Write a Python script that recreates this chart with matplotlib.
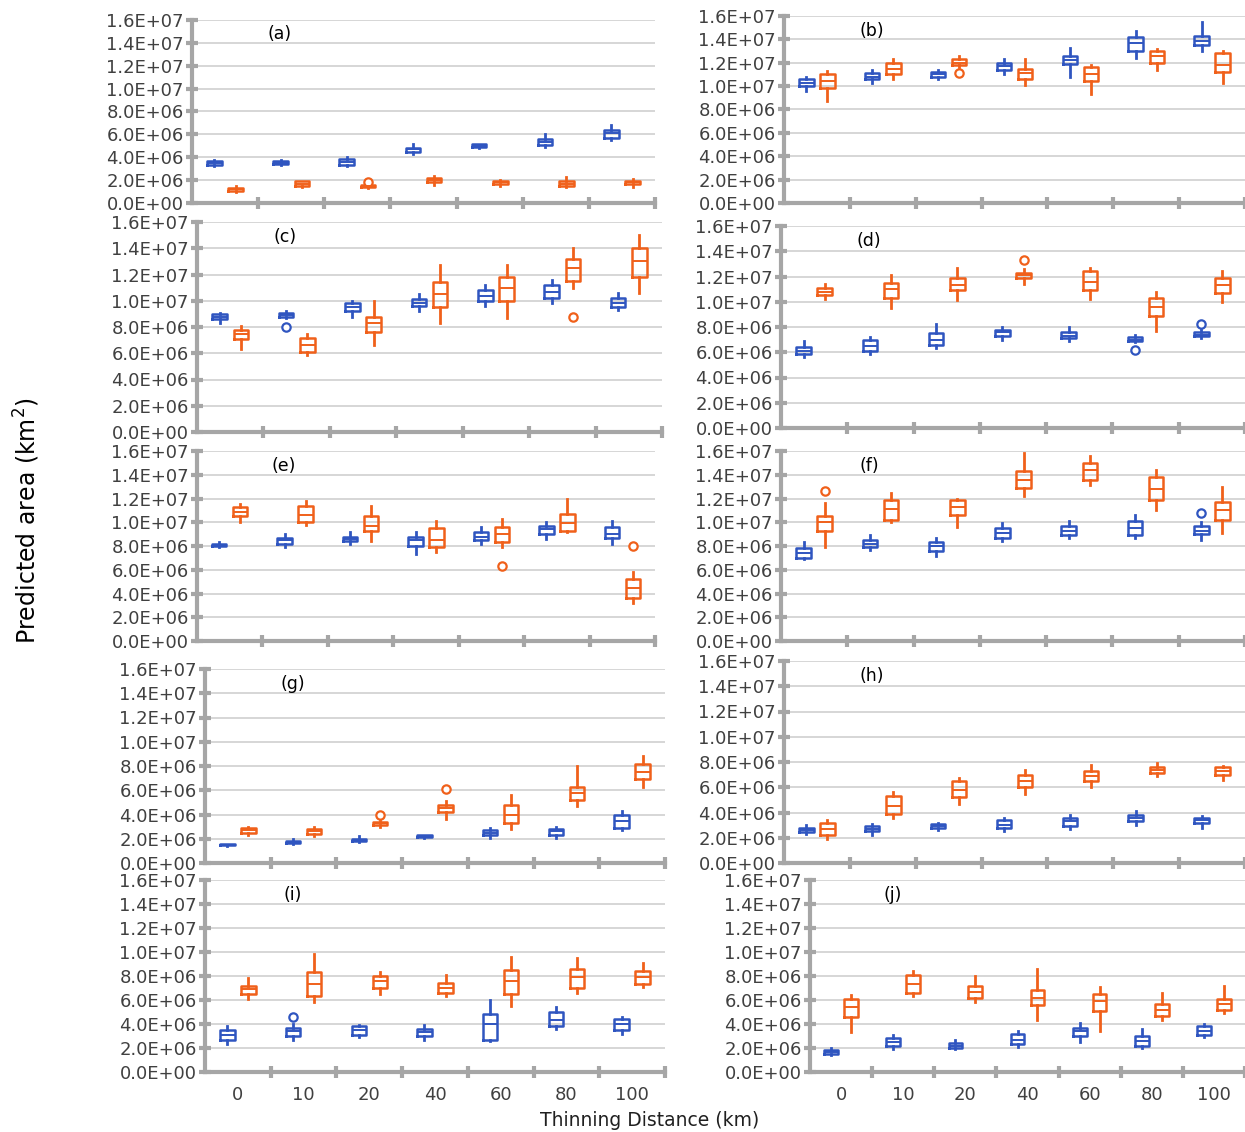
import matplotlib
matplotlib.use("Agg")
import matplotlib.pyplot as plt

W, H = 1245, 1132
BLUE = "#2f55c0"
ORANGE = "#f0601a"
GREY = "#a6a6a6"

groups = ["0", "10", "20", "40", "60", "80", "100"]

# each box: (low whisker, q1, median, q3, high whisker), values in 1e6 km2
a_blue = [(3.2, 3.35, 3.5, 3.65, 3.8), (3.3, 3.4, 3.5, 3.7, 3.8), (3.2, 3.35, 3.6, 3.85, 4.0),
          (4.3, 4.5, 4.7, 4.85, 5.2), (4.8, 4.9, 5.0, 5.15, 5.2), (4.9, 5.1, 5.3, 5.6, 6.0), (5.5, 5.7, 6.1, 6.4, 6.8)]
a_orange = [(1.0, 1.05, 1.2, 1.3, 1.5), (1.4, 1.5, 1.7, 1.9, 1.9), (1.3, 1.4, 1.5, 1.6, 1.7),
            (1.6, 1.8, 2.0, 2.2, 2.4), (1.5, 1.65, 1.8, 1.9, 2.0), (1.4, 1.5, 1.7, 1.9, 2.3), (1.4, 1.65, 1.8, 1.95, 2.1)]
a_fliers = {("o", 2): [1.8]}

b_blue = [(9.6, 10.0, 10.3, 10.6, 10.8), (10.3, 10.6, 10.8, 11.1, 11.4), (10.6, 10.8, 11.0, 11.2, 11.4),
          (11.0, 11.4, 11.7, 12.0, 12.3), (10.8, 11.9, 12.2, 12.6, 13.3), (12.4, 13.0, 13.7, 14.2, 14.7), (13.0, 13.5, 13.9, 14.3, 15.5)]
b_orange = [(8.7, 9.8, 10.4, 11.0, 11.3), (10.6, 11.0, 11.5, 12.0, 12.3), (11.6, 11.8, 12.0, 12.3, 12.6),
            (10.1, 10.6, 11.1, 11.5, 12.3), (9.3, 10.4, 11.0, 11.6, 11.8), (11.4, 12.0, 12.6, 13.0, 13.2), (10.3, 11.2, 11.8, 12.8, 13.0)]
b_fliers = {("o", 2): [11.1]}

c_blue = [(8.3, 8.6, 8.8, 9.0, 9.1), (8.7, 8.8, 8.9, 9.1, 9.2), (8.8, 9.2, 9.5, 9.8, 10.0),
          (9.2, 9.6, 9.8, 10.1, 10.5), (9.6, 10.0, 10.4, 10.8, 11.2), (9.8, 10.2, 10.7, 11.2, 11.6), (9.3, 9.5, 9.8, 10.2, 10.6)]
c_orange = [(6.3, 7.1, 7.5, 7.8, 8.1), (5.9, 6.1, 6.6, 7.2, 7.5), (6.6, 7.6, 8.3, 8.8, 10.0),
            (8.3, 9.5, 10.5, 11.4, 12.7), (8.7, 10.0, 11.0, 11.8, 12.7), (11.0, 11.5, 12.5, 13.2, 14.0), (10.6, 11.8, 13.0, 14.0, 15.0)]
c_fliers = {("b", 1): [8.0], ("o", 5): [8.8]}

d_blue = [(5.6, 5.9, 6.1, 6.4, 6.9), (5.9, 6.1, 6.5, 7.0, 7.2), (6.3, 6.6, 7.0, 7.5, 8.2),
          (7.0, 7.3, 7.6, 7.8, 8.0), (6.9, 7.1, 7.3, 7.6, 8.0), (6.8, 6.9, 7.0, 7.2, 7.4), (7.1, 7.3, 7.4, 7.6, 7.8)]
d_orange = [(10.2, 10.5, 10.8, 11.1, 11.4), (9.5, 10.3, 11.0, 11.5, 12.1), (10.1, 10.9, 11.3, 11.9, 12.7),
            (11.4, 11.9, 12.1, 12.3, 12.6), (10.2, 10.9, 11.6, 12.4, 12.7), (7.7, 8.9, 9.6, 10.3, 10.8), (10.0, 10.7, 11.3, 11.9, 12.4)]
d_fliers = {("b", 5): [6.2], ("b", 6): [8.2], ("o", 3): [13.3]}

e_blue = [(7.9, 8.0, 8.1, 8.2, 8.3), (7.9, 8.2, 8.5, 8.7, 9.0), (8.2, 8.4, 8.6, 8.8, 9.2),
          (7.3, 8.0, 8.5, 8.8, 9.2), (8.2, 8.5, 8.8, 9.2, 9.6), (8.6, 9.0, 9.4, 9.7, 10.0), (8.2, 8.7, 9.0, 9.6, 10.1)]
e_orange = [(10.0, 10.5, 10.9, 11.3, 11.5), (9.8, 10.0, 10.6, 11.4, 11.8), (8.4, 9.3, 9.7, 10.5, 11.4),
            (7.5, 7.9, 8.5, 9.5, 10.1), (7.9, 8.3, 9.0, 9.6, 10.3), (9.2, 9.3, 9.9, 10.7, 12.0), (3.2, 3.6, 4.5, 5.2, 5.8)]
e_fliers = {("o", 4): [6.3], ("o", 6): [8.0]}

f_blue = [(6.9, 7.0, 7.4, 7.8, 8.3), (7.7, 7.9, 8.2, 8.5, 8.9), (7.2, 7.6, 8.0, 8.3, 8.7),
          (8.4, 8.7, 9.1, 9.5, 9.9), (8.7, 8.9, 9.3, 9.7, 10.1), (8.7, 8.9, 9.5, 10.1, 10.6), (8.5, 9.0, 9.3, 9.7, 10.0)]
f_orange = [(7.9, 9.3, 10.0, 10.5, 11.6), (10.0, 10.2, 11.1, 11.9, 12.5), (9.6, 10.6, 11.3, 11.9, 12.0),
            (12.2, 12.9, 13.6, 14.3, 15.8), (13.1, 13.6, 14.4, 15.0, 15.6), (11.0, 11.9, 12.8, 13.8, 14.4), (9.1, 10.2, 11.0, 11.7, 13.0)]
f_fliers = {("o", 0): [12.6], ("b", 6): [10.8]}

g_blue = [(1.4, 1.45, 1.5, 1.55, 1.6), (1.6, 1.65, 1.7, 1.85, 2.0), (1.7, 1.8, 1.9, 2.0, 2.2),
          (2.05, 2.15, 2.2, 2.3, 2.35), (2.1, 2.35, 2.5, 2.75, 2.9), (2.1, 2.3, 2.6, 2.8, 3.0), (2.7, 2.9, 3.5, 4.0, 4.3)]
g_orange = [(2.3, 2.5, 2.7, 2.9, 3.0), (2.2, 2.4, 2.6, 2.8, 3.0), (3.0, 3.15, 3.3, 3.4, 3.5),
            (3.6, 4.2, 4.5, 4.8, 5.1), (2.8, 3.3, 4.0, 4.8, 5.6), (4.7, 5.2, 5.8, 6.3, 8.0), (6.3, 6.9, 7.5, 8.2, 8.8)]
g_fliers = {("o", 2): [4.0], ("o", 3): [6.1]}

h_blue = [(2.3, 2.45, 2.6, 2.8, 3.0), (2.2, 2.5, 2.7, 2.9, 3.1), (2.6, 2.75, 2.9, 3.05, 3.2),
          (2.5, 2.8, 3.0, 3.4, 3.6), (2.7, 2.9, 3.3, 3.6, 3.8), (3.0, 3.3, 3.6, 3.8, 4.1), (2.8, 3.2, 3.4, 3.6, 3.7)]
h_orange = [(1.9, 2.2, 2.7, 3.2, 3.4), (3.6, 3.9, 4.5, 5.3, 5.6), (4.7, 5.2, 5.8, 6.5, 6.7),
            (5.5, 6.0, 6.5, 7.0, 7.4), (6.0, 6.5, 6.9, 7.3, 7.8), (6.9, 7.1, 7.4, 7.6, 7.9), (6.6, 7.0, 7.3, 7.6, 7.7)]
h_fliers = {}

i_blue = [(2.3, 2.7, 3.1, 3.5, 3.8), (2.7, 3.0, 3.4, 3.7, 4.0), (2.9, 3.1, 3.5, 3.8, 3.9),
          (2.7, 3.0, 3.3, 3.6, 3.9), (2.6, 2.7, 4.0, 4.8, 6.0), (3.6, 3.8, 4.3, 5.0, 5.4), (3.2, 3.5, 4.0, 4.4, 4.6)]
i_orange = [(6.1, 6.5, 6.9, 7.2, 7.8), (5.8, 6.3, 7.3, 8.3, 9.8), (6.5, 7.0, 7.6, 8.0, 8.3),
            (6.3, 6.6, 7.0, 7.4, 8.1), (5.5, 6.5, 7.6, 8.5, 9.6), (6.6, 7.0, 7.9, 8.6, 9.5), (7.1, 7.3, 7.9, 8.4, 9.1)]
i_fliers = {("b", 1): [4.6]}

j_blue = [(1.4, 1.5, 1.7, 1.85, 2.0), (1.9, 2.2, 2.5, 2.8, 3.1), (1.9, 2.0, 2.2, 2.45, 2.7),
          (2.1, 2.3, 2.7, 3.2, 3.4), (2.5, 3.0, 3.4, 3.7, 4.1), (2.0, 2.2, 2.6, 3.0, 3.6), (2.9, 3.1, 3.4, 3.8, 4.0)]
j_orange = [(3.3, 4.6, 5.4, 6.1, 6.4), (6.3, 6.6, 7.3, 8.1, 8.4), (5.8, 6.2, 6.7, 7.2, 8.0),
            (4.3, 5.6, 6.2, 6.8, 8.6), (3.4, 5.1, 5.9, 6.5, 7.1), (4.3, 4.7, 5.2, 5.7, 6.6), (4.9, 5.2, 5.7, 6.1, 7.2)]
j_fliers = {}

panels = [
    ("(a)", a_blue, a_orange, a_fliers, (192, 20, 655, 203), False),
    ("(b)", b_blue, b_orange, b_fliers, (784, 16, 1245, 203), False),
    ("(c)", c_blue, c_orange, c_fliers, (197, 222, 662, 432), False),
    ("(d)", d_blue, d_orange, d_fliers, (781, 226, 1245, 428), False),
    ("(e)", e_blue, e_orange, e_fliers, (197, 451, 655, 641), False),
    ("(f)", f_blue, f_orange, f_fliers, (781, 451, 1245, 641), False),
    ("(g)", g_blue, g_orange, g_fliers, (205, 669, 665, 863), False),
    ("(h)", h_blue, h_orange, h_fliers, (784, 661, 1245, 863), False),
    ("(i)", i_blue, i_orange, i_fliers, (205, 880, 665, 1072), True),
    ("(j)", j_blue, j_orange, j_fliers, (810, 880, 1245, 1072), True),
]

yticks = [0, 2, 4, 6, 8, 10, 12, 14, 16]
ylabels = ["%.1fE+%02d" % ((v, 6) if v < 10 else (v / 10, 7)) for v in yticks]
ylabels[0] = "0.0E+00"


def stats(boxes, fl, key):
    out = []
    for k, (lo, q1, med, q3, hi) in enumerate(boxes):
        out.append(dict(whislo=lo, q1=q1, med=med, q3=q3, whishi=hi,
                        fliers=fl.get((key, k), [])))
    return out


fig = plt.figure(figsize=(W / 100, H / 100), dpi=100)

for label, blue, orange, fl, (x0, y0, x1, y1), bottom in panels:
    ax = fig.add_axes([x0 / W, 1 - y1 / H, (x1 - x0) / W, (y1 - y0) / H])
    n = len(groups)
    for data, key, col, off in [(blue, "b", BLUE, -0.16), (orange, "o", ORANGE, 0.16)]:
        ax.bxp(stats(data, fl, key), positions=[k + off for k in range(n)], widths=0.22,
               showcaps=False, patch_artist=False,
               boxprops=dict(color=col, lw=1.8), medianprops=dict(color=col, lw=1.4),
               whiskerprops=dict(color=col, lw=2),
               flierprops=dict(marker="o", markerfacecolor="white", markeredgecolor=col,
                               markersize=6, markeredgewidth=1.6))
    ax.set_xlim(-0.5, n - 0.5)
    ax.set_ylim(0, 16)
    ax.set_yticks(yticks)
    ax.set_yticklabels(ylabels, fontsize=13, color="#404040")
    ax.set_xticks([k + 0.5 for k in range(n)])
    ax.set_xticklabels([])
    if bottom:
        ax.set_xticks(range(n), minor=True)
        ax.set_xticklabels(groups, minor=True, fontsize=13, color="#404040")
        ax.tick_params(axis="x", which="minor", length=0, pad=10)
    ax.grid(axis="y", color="#d0d0d0", lw=1.2)
    ax.set_axisbelow(True)
    for s in ["top", "right"]:
        ax.spines[s].set_visible(False)
    for s in ["left", "bottom"]:
        ax.spines[s].set_color(GREY)
        ax.spines[s].set_linewidth(3)
    ax.tick_params(axis="both", which="major", color=GREY, width=3, length=8, direction="inout", pad=2)
    ax.text(0.19, 0.97, label, transform=ax.transAxes, fontsize=12.5, va="top", ha="center")

fig.text(0.022, 0.54, "Predicted area (km$^2$)", rotation=90, fontsize=17, va="center", ha="center")
fig.text(0.522, 0.002, "Thinning Distance (km)", fontsize=13.5, ha="center", va="bottom", color="#202020")

fig.savefig("out.png", dpi=100)
